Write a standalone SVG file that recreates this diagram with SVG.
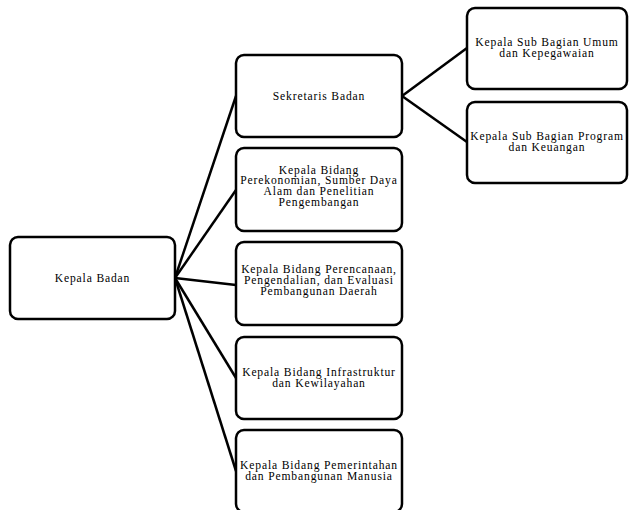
<svg xmlns="http://www.w3.org/2000/svg" width="630" height="510" viewBox="0 0 630 510">
<style>
.box{fill:#fff;stroke:#000;stroke-width:2.5}
.t{font-family:"Liberation Serif","Times New Roman",serif;font-size:11.6px;letter-spacing:0.85px;fill:#000;text-anchor:middle}
.c{stroke:#000;stroke-width:2.5;fill:none}
</style>
<rect width="630" height="510" fill="#fff"/>
<g id="connectors">
<line class="c" x1="175" y1="278" x2="236" y2="96"/>
<line class="c" x1="175" y1="278" x2="236" y2="190"/>
<line class="c" x1="175" y1="278" x2="236" y2="285"/>
<line class="c" x1="175" y1="278" x2="236" y2="378"/>
<line class="c" x1="175" y1="278" x2="236" y2="471"/>
<line class="c" x1="402" y1="96" x2="467" y2="48"/>
<line class="c" x1="402" y1="96" x2="467" y2="142"/>
</g>
<g id="kepala-badan">
<rect class="box" x="10" y="237" width="165" height="82" rx="8"/>
<text class="t" x="92.5" y="281.7">Kepala Badan</text>
</g>
<g id="sekretaris">
<rect class="box" x="236" y="55" width="166" height="82" rx="8"/>
<text class="t" x="319" y="100">Sekretaris Badan</text>
</g>
<g id="bidang-ekonomi">
<rect class="box" x="236" y="148" width="166" height="83" rx="8"/>
<text class="t" x="319" y="173.5">Kepala Bidang</text>
<text class="t" x="319" y="184.3">Perekonomian, Sumber Daya</text>
<text class="t" x="319" y="195.1">Alam dan Penelitian</text>
<text class="t" x="319" y="205.9">Pengembangan</text>
</g>
<g id="bidang-perencanaan">
<rect class="box" x="236" y="242" width="166" height="83" rx="8"/>
<text class="t" x="319" y="273">Kepala Bidang Perencanaan,</text>
<text class="t" x="319" y="283.8">Pengendalian, dan Evaluasi</text>
<text class="t" x="319" y="294.6">Pembangunan Daerah</text>
</g>
<g id="bidang-infrastruktur">
<rect class="box" x="236" y="337" width="166" height="82" rx="8"/>
<text class="t" x="319" y="376">Kepala Bidang Infrastruktur</text>
<text class="t" x="319" y="386.8">dan Kewilayahan</text>
</g>
<g id="bidang-pemerintahan">
<rect class="box" x="236" y="430" width="166" height="82" rx="8"/>
<text class="t" x="319" y="469.3">Kepala Bidang Pemerintahan</text>
<text class="t" x="319" y="480.1">dan Pembangunan Manusia</text>
</g>
<g id="subbag-umum">
<rect class="box" x="467" y="8" width="160" height="81" rx="8"/>
<text class="t" x="547" y="45.5">Kepala Sub Bagian Umum</text>
<text class="t" x="547" y="56.7">dan Kepegawaian</text>
</g>
<g id="subbag-program">
<rect class="box" x="467" y="102" width="160" height="81" rx="8"/>
<text class="t" x="547" y="139.5">Kepala Sub Bagian Program</text>
<text class="t" x="547" y="150.7">dan Keuangan</text>
</g>
</svg>
